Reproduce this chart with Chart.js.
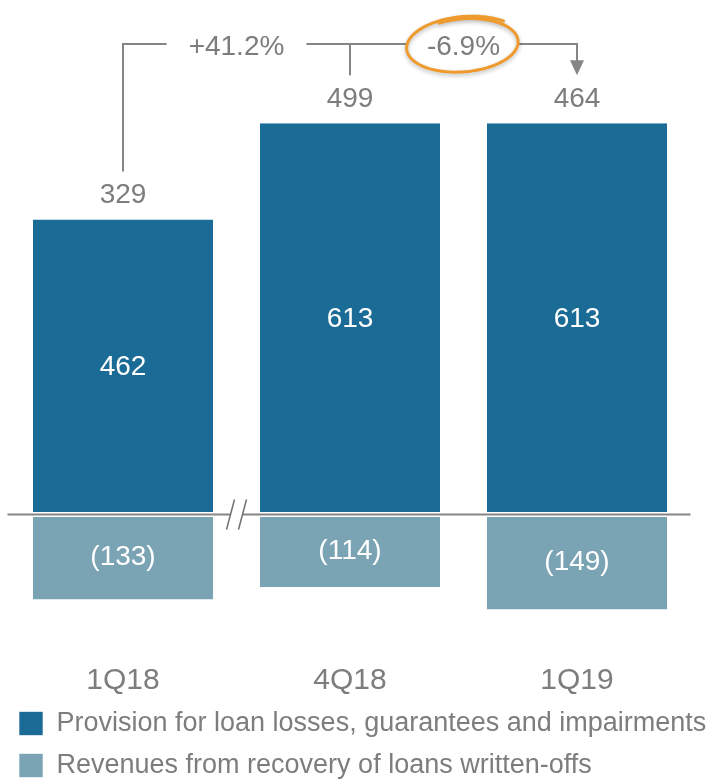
<!DOCTYPE html>
<html>
<head>
<meta charset="utf-8">
<script src="https://cdn.jsdelivr.net/npm/chart.js@4.4.1/dist/chart.umd.min.js"></script>
<style>
  html, body { margin: 0; padding: 0; background: #fff; overflow: hidden; }
</style>
</head>
<body>
<canvas id="provisionChart" width="709" height="789"></canvas>
<script>
// Quarters and the two stacked components (R$ million)
const quarters = ['1Q18', '4Q18', '1Q19'];
const provisions = [462, 613, 613];
const recoveries = [-133, -114, -149];
const changeLabels = ['+41.2%', '-6.9%'];
const seriesNames = [
    'Provision for loan losses, guarantees and impairments',
    'Revenues from recovery of loans written-offs'
];

const DARK_BLUE = '#1b6b97';
const LIGHT_BLUE = '#7aa3b4';
const TEXT_GRAY = '#7d7d7d';
const LINE_GRAY = '#858585';
const ORANGE = '#ee9a2c';
const FONT = '"Liberation Sans", Arial, sans-serif';

// Zero line, axis break, value labels and the change bracket on top
const annotations = {
    id: 'annotations',
    afterDatasetsDraw(chart) {
        const { ctx, chartArea, scales: { x, y } } = chart;
        const zero = y.getPixelForValue(0);
        ctx.save();

        // zero line
        ctx.strokeStyle = LINE_GRAY;
        ctx.lineWidth = 2;
        ctx.beginPath();
        ctx.moveTo(chartArea.left - 2, zero);
        ctx.lineTo(chartArea.right, zero);
        ctx.stroke();

        // "//" break between first and second quarter
        const bx = (x.getPixelForValue(0) + x.getPixelForValue(1)) / 2;
        ctx.fillStyle = '#fff';
        ctx.fillRect(bx - 6, zero - 2, 12, 4);
        ctx.strokeStyle = '#707070';
        ctx.lineWidth = 1.5;
        [-6, 6].forEach(dx => {
            ctx.beginPath();
            ctx.moveTo(bx + dx + 4, zero - 15);
            ctx.lineTo(bx + dx - 4, zero + 15);
            ctx.stroke();
        });

        // values inside the bars and totals on top
        ctx.textAlign = 'center';
        ctx.textBaseline = 'middle';
        const totalY = [];
        quarters.forEach((q, i) => {
            const xc = x.getPixelForValue(i);
            ctx.font = '28px ' + FONT;
            ctx.fillStyle = '#fff';
            ctx.fillText(String(provisions[i]), xc, y.getPixelForValue(provisions[i] / 2));
            ctx.fillText('(' + (-recoveries[i]) + ')', xc, y.getPixelForValue(recoveries[i] / 2));

            const total = provisions[i] + recoveries[i];
            const ty = y.getPixelForValue(provisions[i]) - 24;
            totalY.push(ty);
            ctx.fillStyle = TEXT_GRAY;
            ctx.fillText(String(total), xc, ty);
        });

        // bracket with change percentages
        const topY = 44;
        const x0 = x.getPixelForValue(0), x1 = x.getPixelForValue(1), x2 = x.getPixelForValue(2);
        const m1 = (x0 + x1) / 2, m2 = (x1 + x2) / 2;
        ctx.font = '28px ' + FONT;
        const gap1 = ctx.measureText(changeLabels[0]).width / 2 + 22;
        const rx = 56, ry = 27;

        ctx.strokeStyle = LINE_GRAY;
        ctx.lineWidth = 2;
        ctx.beginPath();
        ctx.moveTo(x0, totalY[0] - 24);
        ctx.lineTo(x0, topY);
        ctx.lineTo(m1 - gap1, topY);
        ctx.moveTo(m1 + gap1, topY);
        ctx.lineTo(m2 - rx + 1, topY);
        ctx.moveTo(x1, topY);
        ctx.lineTo(x1, totalY[1] - 24);
        ctx.moveTo(m2 + rx - 1, topY);
        ctx.lineTo(x2, topY);
        ctx.lineTo(x2, totalY[2] - 38);
        ctx.stroke();

        // arrow head
        const tip = totalY[2] - 24;
        ctx.fillStyle = LINE_GRAY;
        ctx.beginPath();
        ctx.moveTo(x2, tip);
        ctx.lineTo(x2 - 7, tip - 15);
        ctx.lineTo(x2 + 7, tip - 15);
        ctx.closePath();
        ctx.fill();

        ctx.fillStyle = TEXT_GRAY;
        ctx.fillText(changeLabels[0], m1, topY + 3);
        ctx.fillText(changeLabels[1], m2, topY + 3);

        // hand-drawn highlight around the latest change
        const cx = m2, cy = topY + 1, rot = -0.08;
        ctx.strokeStyle = ORANGE;
        ctx.lineWidth = 3;
        ctx.lineCap = 'round';
        ctx.shadowColor = 'rgba(0,0,0,0.28)';
        ctx.shadowBlur = 4;
        ctx.shadowOffsetY = 2;
        ctx.beginPath();
        const start = -2.0, sweep = Math.PI * 2 + 1.2;
        for (let t = 0; t <= 1.0001; t += 0.005) {
            const a = start + t * sweep;
            const grow = 0.97 + 0.1 * t * t;
            const ex = rx * grow * Math.cos(a), ey = ry * grow * Math.sin(a);
            const px = cx + ex * Math.cos(rot) - ey * Math.sin(rot);
            const py = cy + ex * Math.sin(rot) + ey * Math.cos(rot);
            if (t === 0) ctx.moveTo(px, py); else ctx.lineTo(px, py);
        }
        ctx.stroke();
        ctx.restore();
    }
};

const ctx = document.getElementById('provisionChart').getContext('2d');
const chart = new Chart(ctx, {
    type: 'bar',
    data: {
        labels: quarters,
        datasets: [
            {
                label: seriesNames[0],
                data: provisions,
                backgroundColor: DARK_BLUE,
                borderColor: '#fff',
                borderWidth: { top: 0, left: 0, right: 0, bottom: 2.5 },
                borderSkipped: false
            },
            {
                label: seriesNames[1],
                data: recoveries,
                backgroundColor: LIGHT_BLUE,
                borderColor: '#fff',
                borderWidth: { top: 2.5, left: 0, right: 0, bottom: 0 },
                borderSkipped: false
            }
        ]
    },
    options: {
        responsive: false,
        devicePixelRatio: 1,
        animation: false,
        layout: { padding: { left: 4, right: 0, top: 0, bottom: 0 } },
        datasets: {
            bar: { categoryPercentage: 1, barPercentage: 0.793 }
        },
        scales: {
            x: {
                stacked: true,
                grid: { display: false },
                border: { display: false },
                ticks: {
                    color: TEXT_GRAY,
                    font: { family: FONT, size: 30 },
                    padding: 32
                },
                afterFit: axis => { axis.height = 72; }
            },
            y: {
                stacked: true,
                min: -170,
                max: 806,
                grid: { display: false },
                border: { display: false },
                ticks: { display: false },
                afterFit: axis => { axis.width = 5.5; }
            },
            // empty right-hand axis, only keeps the bars off the right edge
            yRight: {
                position: 'right',
                grid: { display: false },
                border: { display: false },
                ticks: { display: false },
                afterFit: axis => { axis.width = 18.5; }
            }
        },
        plugins: {
            tooltip: { enabled: false },
            legend: {
                position: 'bottom',
                align: 'start',
                labels: {
                    boxWidth: 24,
                    boxHeight: 24,
                    padding: 15,
                    color: TEXT_GRAY,
                    font: { family: FONT, size: 27 }
                }
            }
        }
    },
    plugins: [annotations]
});
</script>
</body>
</html>
